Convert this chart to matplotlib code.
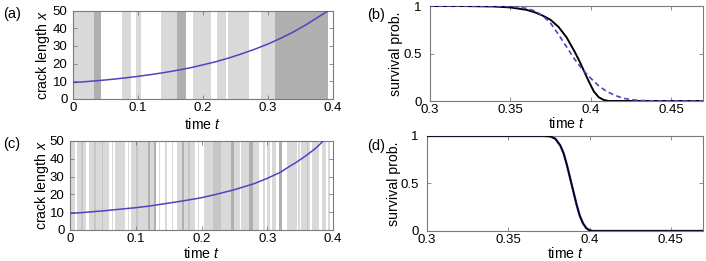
import matplotlib.pyplot as plt
import numpy as np

plt.rcParams['font.family'] = ['Liberation Sans', 'DejaVu Sans']
plt.rcParams['mathtext.fontset'] = 'custom'
plt.rcParams['mathtext.it'] = 'Liberation Sans:italic'
plt.rcParams['mathtext.rm'] = 'Liberation Sans'
plt.rcParams['font.size'] = 10.5
plt.rcParams['axes.labelsize'] = 10.2
plt.rcParams['xtick.labelsize'] = 9.5
plt.rcParams['ytick.labelsize'] = 9.5

# ---- data ----
# (a) crack length trajectory and environment bands (start, end, shade)
t_a = [0.0, 0.02, 0.04, 0.06, 0.08, 0.1, 0.12, 0.14, 0.16, 0.18, 0.2, 0.22,
       0.24, 0.26, 0.28, 0.3, 0.32, 0.34, 0.36, 0.375, 0.393]
x_a = [9.3, 9.8, 10.4, 11.1, 11.9, 12.8, 13.8, 14.9, 16.2, 17.6, 19.3, 21.1,
       23.2, 25.6, 28.2, 31.1, 34.4, 38.1, 42.3, 45.8, 50.0]
bands_a = [(0.000, 0.0327, 'l'), (0.0327, 0.043, 'd'), (0.075, 0.0897, 'l'),
           (0.0977, 0.105, 'l'), (0.135, 0.160, 'l'), (0.160, 0.174, 'd'),
           (0.184, 0.212, 'l'), (0.222, 0.235, 'l'), (0.239, 0.271, 'l'),
           (0.290, 0.3113, 'l'), (0.3113, 0.393, 'd')]

# (c) crack length trajectory, fast switching environment
t_c = [0.0, 0.02, 0.05, 0.08, 0.1, 0.12, 0.14, 0.17, 0.2, 0.22, 0.25, 0.28,
       0.3, 0.32, 0.33, 0.345, 0.36, 0.375, 0.385]
x_c = [9.3, 9.8, 10.7, 11.8, 12.5, 13.4, 14.5, 16.2, 18.1, 19.8, 22.6, 26.0,
       29.0, 32.4, 34.8, 38.2, 42.0, 46.3, 50.0]
bands_c = [(0.000, 0.007, 'l'), (0.011, 0.024, 'l'), (0.017, 0.019, 'm'),
           (0.029, 0.036, 'l'), (0.036, 0.040, 'm'), (0.040, 0.060, 'l'),
           (0.048, 0.050, 'm'), (0.064, 0.066, 'l'), (0.068, 0.083, 'l'),
           (0.088, 0.090, 'l'), (0.093, 0.110, 'l'), (0.100, 0.103, 'm'),
           (0.110, 0.118, 'l'), (0.118, 0.121, 'd'), (0.121, 0.129, 'l'),
           (0.127, 0.130, 'd'), (0.135, 0.137, 'l'), (0.145, 0.147, 'l'),
           (0.155, 0.157, 'l'), (0.162, 0.170, 'l'), (0.170, 0.173, 'd'),
           (0.173, 0.190, 'l'), (0.180, 0.182, 'm'), (0.194, 0.196, 'l'),
           (0.203, 0.218, 'l'), (0.218, 0.230, 'm'), (0.230, 0.245, 'l'),
           (0.245, 0.250, 'd'), (0.250, 0.258, 'l'), (0.260, 0.272, 'l'),
           (0.272, 0.279, 'd'), (0.279, 0.287, 'l'), (0.293, 0.296, 'l'),
           (0.300, 0.304, 'l'), (0.307, 0.313, 'l'), (0.318, 0.322, 'd'),
           (0.330, 0.345, 'l'), (0.347, 0.350, 'l'), (0.352, 0.365, 'l'),
           (0.360, 0.362, 'm'), (0.368, 0.378, 'l'), (0.383, 0.390, 'l'),
           (0.392, 0.395, 'l')]

# (b) survival probability: simulation (solid) and approximation (dashed)
t_b = [0.30, 0.32, 0.34, 0.35, 0.36, 0.365, 0.37, 0.375, 0.38, 0.385, 0.39,
       0.393, 0.396, 0.399, 0.402, 0.405, 0.408, 0.411, 0.47]
s_b = [1.0, 1.0, 0.995, 0.985, 0.96, 0.935, 0.90, 0.855, 0.78, 0.67, 0.52,
       0.42, 0.31, 0.20, 0.10, 0.04, 0.012, 0.0, 0.0]
t_b2 = [0.30, 0.34, 0.35, 0.36, 0.365, 0.37, 0.375, 0.38, 0.385, 0.39, 0.395,
        0.40, 0.405, 0.41, 0.415, 0.42, 0.425, 0.43, 0.44, 0.47]
s_b2 = [1.0, 1.0, 0.995, 0.975, 0.95, 0.90, 0.82, 0.70, 0.57, 0.44, 0.33,
        0.24, 0.16, 0.10, 0.06, 0.03, 0.015, 0.006, 0.001, 0.0]

# (d) survival probability, fast switching
t_d = [0.30, 0.372, 0.376, 0.379, 0.382, 0.384, 0.386, 0.388, 0.390, 0.392,
       0.394, 0.396, 0.398, 0.400, 0.402, 0.47]
s_d = [1.0, 1.0, 0.995, 0.97, 0.90, 0.82, 0.70, 0.56, 0.42, 0.28, 0.16, 0.08,
       0.03, 0.007, 0.0, 0.0]

shade = {'l': '#d9d9d9', 'm': '#c6c6c6', 'd': '#b0b0b0'}
purple = '#5a3fbf'
spine_c = '#7a7a7a'

fig = plt.figure(figsize=(7.06, 2.61), dpi=100)
ax_a = fig.add_axes([0.1034, 0.621, 0.368, 0.338])
ax_b = fig.add_axes([0.609, 0.613, 0.387, 0.364])
ax_c = fig.add_axes([0.0992, 0.119, 0.3725, 0.341])
ax_d = fig.add_axes([0.605, 0.115, 0.391, 0.364])


def style(ax, ypad):
    for s in ax.spines.values():
        s.set_color(spine_c)
        s.set_linewidth(0.8)
    ax.tick_params(direction='in', length=3, width=0.6, color=spine_c,
                   top=True, right=True, pad=2)
    ax.tick_params(axis='y', pad=ypad)


for ax, bands, tt, xx in [(ax_a, bands_a, t_a, x_a), (ax_c, bands_c, t_c, x_c)]:
    for s, e, k in bands:
        ax.axvspan(s, e, color=shade[k], lw=0, zorder=0)
    ax.plot(tt, xx, color=purple, lw=1.1, zorder=3)
    ax.set_xlim(0, 0.4)
    ax.set_ylim(0, 50)
    ax.set_xticks([0, 0.1, 0.2, 0.3, 0.4])
    ax.set_xticklabels(['0', '0.1', '0.2', '0.3', '0.4'])
    ax.set_yticks([0, 10, 20, 30, 40, 50])
    ax.set_xlabel(r'time $\mathit{t}$')
    ax.set_ylabel(r'crack length $\mathit{x}$')
    style(ax, 4)

ax_b.plot(t_b, s_b, color='black', lw=1.4, zorder=3)
ax_b.plot(t_b2, s_b2, color=purple, lw=1.2, ls=(0, (3, 2)), zorder=4)
ax_d.plot(t_d, s_d, color=purple, lw=1.7, zorder=3)
ax_d.plot(t_d, s_d, color='black', lw=1.1, zorder=4)

for ax in [ax_b, ax_d]:
    ax.set_xlim(0.3, 0.47)
    ax.set_ylim(0, 1)
    ax.set_xticks([0.3, 0.35, 0.4, 0.45])
    ax.set_xticklabels(['0.3', '0.35', '0.4', '0.45'])
    ax.set_yticks([0, 0.5, 1])
    ax.set_yticklabels(['0', '0.5', '1'])
    ax.set_xlabel(r'time $\mathit{t}$')
    ax.set_ylabel('survival prob.')
    style(ax, 6)

# label placement (axes fractions, right edge of the rotated y labels)
ax_a.yaxis.set_label_coords(-0.080, 0.5)
ax_c.yaxis.set_label_coords(-0.074, 0.5)
ax_b.yaxis.set_label_coords(-0.099, 0.5)
ax_d.yaxis.set_label_coords(-0.094, 0.5)
ax_a.xaxis.set_label_coords(0.5, -0.20)
ax_c.xaxis.set_label_coords(0.5, -0.18)
ax_b.xaxis.set_label_coords(0.5, -0.16)
ax_d.xaxis.set_label_coords(0.5, -0.155)

fig.text(0.004, 0.946, '(a)', fontsize=10.5, va='center')
fig.text(0.520, 0.943, '(b)', fontsize=10.5, va='center')
fig.text(0.004, 0.448, '(c)', fontsize=10.5, va='center')
fig.text(0.520, 0.441, '(d)', fontsize=10.5, va='center')

fig.savefig('out.png', dpi=100)
